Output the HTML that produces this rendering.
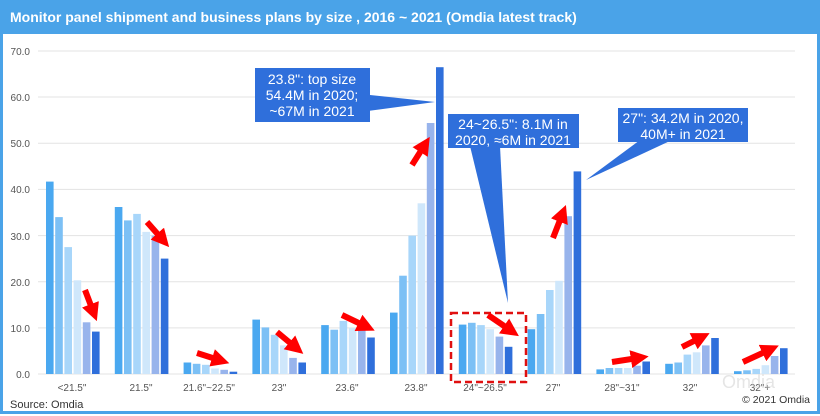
<!DOCTYPE html>
<html><head><meta charset="utf-8"><style>
body{margin:0;background:#fff;}
svg{display:block;font-family:"Liberation Sans",sans-serif;}
.a{fill:#4aa8f0}.b{fill:#7cc0f5}.c{fill:#a8d6fa}.d{fill:#cfe7fb}.e{fill:#98b4ec}.f{fill:#2f6fdb}
</style></head><body>
<svg width="820" height="416" viewBox="0 0 820 416" xmlns="http://www.w3.org/2000/svg">
<defs><marker id="ah" markerWidth="3" markerHeight="3" refX="1.2" refY="1.5" orient="auto"><path d="M0,0 L3,1.5 L0,3 z" fill="#f00"/></marker></defs>
<rect x="0" y="0" width="820" height="416" fill="#fff"/>
<rect x="1.5" y="1.5" width="817" height="411" fill="none" stroke="#4aa3e8" stroke-width="3"/>
<rect x="0" y="0" width="820" height="34" fill="#4aa3e8"/>
<text x="10" y="22" font-size="14" font-weight="bold" fill="#fff">Monitor panel shipment and business plans by size , 2016 ~ 2021 (Omdia latest track)</text>
<g stroke="#e3e3e3" stroke-width="1">
<line x1="38" x2="795" y1="51" y2="51"/><line x1="38" x2="795" y1="97" y2="97"/><line x1="38" x2="795" y1="143.3" y2="143.3"/><line x1="38" x2="795" y1="189.4" y2="189.4"/><line x1="38" x2="795" y1="235.6" y2="235.6"/><line x1="38" x2="795" y1="281.7" y2="281.7"/><line x1="38" x2="795" y1="327.9" y2="327.9"/><line x1="38" x2="795" y1="374" y2="374"/>
</g>
<g font-size="10" fill="#555" text-anchor="end">
<text x="30" y="55">70.0</text><text x="30" y="101">60.0</text><text x="30" y="147">50.0</text><text x="30" y="193">40.0</text><text x="30" y="240">30.0</text><text x="30" y="286">20.0</text><text x="30" y="332">10.0</text><text x="30" y="378">0.0</text>
</g>
<g transform="translate(46,374) scale(1,-1)"><rect class="a" x="0" width="7.6" height="192.4"/><rect class="b" x="9.2" width="7.6" height="156.9"/><rect class="c" x="18.4" width="7.6" height="126.9"/><rect class="d" x="27.6" width="7.6" height="93.7"/><rect class="e" x="36.8" width="7.6" height="51.7"/><rect class="f" x="46" width="7.6" height="42.4"/></g>
<g transform="translate(114.8,374) scale(1,-1)"><rect class="a" x="0" width="7.6" height="167"/><rect class="b" x="9.2" width="7.6" height="153.6"/><rect class="c" x="18.4" width="7.6" height="160.1"/><rect class="d" x="27.6" width="7.6" height="142.1"/><rect class="e" x="36.8" width="7.6" height="138.4"/><rect class="f" x="46" width="7.6" height="115.4"/></g>
<g transform="translate(183.6,374) scale(1,-1)"><rect class="a" x="0" width="7.6" height="11.5"/><rect class="b" x="9.2" width="7.6" height="10.2"/><rect class="c" x="18.4" width="7.6" height="9.2"/><rect class="d" x="27.6" width="7.6" height="5.5"/><rect class="e" x="36.8" width="7.6" height="4.2"/><rect class="f" x="46" width="7.6" height="2.3"/></g>
<g transform="translate(252.4,374) scale(1,-1)"><rect class="a" x="0" width="7.6" height="54.4"/><rect class="b" x="9.2" width="7.6" height="46.6"/><rect class="c" x="18.4" width="7.6" height="39.2"/><rect class="d" x="27.6" width="7.6" height="28.6"/><rect class="e" x="36.8" width="7.6" height="16.1"/><rect class="f" x="46" width="7.6" height="11.5"/></g>
<g transform="translate(321.2,374) scale(1,-1)"><rect class="a" x="0" width="7.6" height="48.9"/><rect class="b" x="9.2" width="7.6" height="44.3"/><rect class="c" x="18.4" width="7.6" height="53.1"/><rect class="d" x="27.6" width="7.6" height="46.1"/><rect class="e" x="36.8" width="7.6" height="46.1"/><rect class="f" x="46" width="7.6" height="36.5"/></g>
<g transform="translate(390,374) scale(1,-1)"><rect class="a" x="0" width="7.6" height="61.4"/><rect class="b" x="9.2" width="7.6" height="98.3"/><rect class="c" x="18.4" width="7.6" height="138.4"/><rect class="d" x="27.6" width="7.6" height="170.7"/><rect class="e" x="36.8" width="7.6" height="251"/><rect class="f" x="46" width="7.6" height="306.8"/></g>
<g transform="translate(458.8,374) scale(1,-1)"><rect class="a" x="0" width="7.6" height="49.4"/><rect class="b" x="9.2" width="7.6" height="51.2"/><rect class="c" x="18.4" width="7.6" height="48.9"/><rect class="d" x="27.6" width="7.6" height="44.8"/><rect class="e" x="36.8" width="7.6" height="37.4"/><rect class="f" x="46" width="7.6" height="27.2"/></g>
<g transform="translate(527.6,374) scale(1,-1)"><rect class="a" x="0" width="7.6" height="44.8"/><rect class="b" x="9.2" width="7.6" height="60"/><rect class="c" x="18.4" width="7.6" height="84"/><rect class="d" x="27.6" width="7.6" height="93.2"/><rect class="e" x="36.8" width="7.6" height="157.8"/><rect class="f" x="46" width="7.6" height="202.6"/></g>
<g transform="translate(596.4,374) scale(1,-1)"><rect class="a" x="0" width="7.6" height="4.6"/><rect class="b" x="9.2" width="7.6" height="6"/><rect class="c" x="18.4" width="7.6" height="6"/><rect class="d" x="27.6" width="7.6" height="6"/><rect class="e" x="36.8" width="7.6" height="8.3"/><rect class="f" x="46" width="7.6" height="12.5"/></g>
<g transform="translate(665.2,374) scale(1,-1)"><rect class="a" x="0" width="7.6" height="10.2"/><rect class="b" x="9.2" width="7.6" height="11.5"/><rect class="c" x="18.4" width="7.6" height="19.4"/><rect class="d" x="27.6" width="7.6" height="21.7"/><rect class="e" x="36.8" width="7.6" height="28.6"/><rect class="f" x="46" width="7.6" height="36"/></g>
<g transform="translate(734,374) scale(1,-1)"><rect class="a" x="0" width="7.6" height="2.8"/><rect class="b" x="9.2" width="7.6" height="3.7"/><rect class="c" x="18.4" width="7.6" height="5.1"/><rect class="d" x="27.6" width="7.6" height="8.8"/><rect class="e" x="36.8" width="7.6" height="18"/><rect class="f" x="46" width="7.6" height="25.8"/></g>
<g font-size="10" fill="#555" text-anchor="middle">
<text x="72" y="391">&lt;21.5"</text><text x="141" y="391">21.5"</text><text x="209" y="391">21.6"~22.5"</text><text x="279" y="391">23"</text><text x="347" y="391">23.6"</text><text x="416" y="391">23.8"</text><text x="485" y="391">24"~26.5"</text><text x="553" y="391">27"</text><text x="622" y="391">28"~31"</text><text x="690" y="391">32"</text><text x="760" y="391">32"+</text>
</g>
<text x="10" y="408" font-size="11" fill="#333">Source: Omdia</text>
<text x="810" y="403" font-size="10.5" fill="#333" text-anchor="end">© 2021 Omdia</text>
<text x="722" y="388" font-size="18" fill="#ccc" opacity="0.5">Omdia</text>
<polygon points="360,95 370,95 435,102 360,112" fill="#2f6fdb"/>
<rect x="255" y="68" width="115" height="54" fill="#2f6fdb"/>
<text fill="#fff" font-size="14" text-anchor="middle"><tspan x="312" y="84">23.8": top size</tspan><tspan x="312" y="100">54.4M in 2020;</tspan><tspan x="312" y="116">~67M in 2021</tspan></text>
<polygon points="470,146 500,146 508,303" fill="#2f6fdb"/>
<rect x="448" y="114" width="131" height="34" fill="#2f6fdb"/>
<text fill="#fff" font-size="14" text-anchor="middle"><tspan x="513" y="129">24~26.5": 8.1M in</tspan><tspan x="513" y="145">2020, ≈6M in 2021</tspan></text>
<polygon points="640,140 672,140 586,180" fill="#2f6fdb"/>
<rect x="618" y="108" width="130" height="34" fill="#2f6fdb"/>
<text fill="#fff" font-size="14" text-anchor="middle"><tspan x="683" y="123">27": 34.2M in 2020,</tspan><tspan x="683" y="139">40M+ in 2021</tspan></text>
<rect x="451" y="313" width="75" height="69" fill="none" stroke="#e01010" stroke-width="2.5" stroke-dasharray="7,4"/>
<g stroke="#f00" stroke-width="6" marker-end="url(#ah)" fill="none">
<line x1="85" y1="290" x2="93" y2="311"/>
<line x1="147" y1="222" x2="162" y2="239"/>
<line x1="197" y1="353" x2="219" y2="360"/>
<line x1="277" y1="332" x2="295" y2="347"/>
<line x1="342" y1="315" x2="365" y2="326"/>
<line x1="412" y1="165" x2="424" y2="146"/>
<line x1="488" y1="315" x2="510" y2="330"/>
<line x1="553" y1="238" x2="562" y2="215"/>
<line x1="612" y1="362" x2="638" y2="358"/>
<line x1="682" y1="347" x2="700" y2="338"/>
<line x1="743" y1="362" x2="769" y2="350"/>
</g>
</svg>
</body></html>
